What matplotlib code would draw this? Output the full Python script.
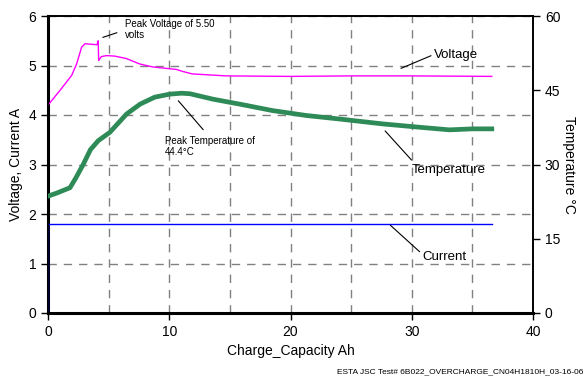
import matplotlib.pyplot as plt
from matplotlib.ticker import MultipleLocator

plt.rcParams['font.family'] = ['Liberation Sans', 'DejaVu Sans']

# Voltage (V) vs charge capacity (Ah)
volt_x = [0, 1.0, 1.95, 2.36, 2.77, 3.05, 3.5, 4.05, 4.14, 4.18, 4.4, 4.83, 5.5,
          6.47, 7.57, 8.66, 10.6, 11.1, 11.9, 14.7, 19.9, 25, 30, 36.6]
volt_y = [4.20, 4.50, 4.80, 5.03, 5.37, 5.44, 5.43, 5.42, 5.50, 5.10, 5.18, 5.20, 5.19,
          5.14, 5.03, 4.97, 4.92, 4.88, 4.83, 4.79, 4.78, 4.79, 4.79, 4.78]

# Temperature (C)
temp_x = [0, 0.8, 1.5, 1.81, 2.3, 2.9, 3.5, 4.14, 5.1, 6.48, 7.6, 8.8, 10.0, 11.0,
          11.7, 13.6, 15.8, 18.5, 21.3, 24.0, 27.6, 30.3, 33.1, 35.0, 36.6]
temp_y = [23.6, 24.3, 25.0, 25.3, 27.3, 30.0, 33.0, 34.8, 36.5, 40.2, 42.2, 43.6, 44.2, 44.4,
          44.3, 43.2, 42.2, 40.9, 39.9, 39.2, 38.2, 37.6, 37.0, 37.2, 37.2]

# Current (A)
curr_x = [0, 0, 36.6]
curr_y = [0, 1.8, 1.8]

fig = plt.figure(figsize=(5.87, 3.79), dpi=100)
ax = fig.add_axes([48/587, 1 - 313/379, 485/587, 297/379])
ax2 = ax.twinx()

ax.plot(volt_x, volt_y, color='#FF00FF', lw=1, zorder=3)
ax.plot(curr_x, curr_y, color='#0000FF', lw=1, zorder=3)
ax2.plot(temp_x, temp_y, color='#2E8B57', lw=3.4, zorder=3)

ax.set_xlim(0, 40)
ax.set_ylim(0, 6)
ax2.set_ylim(0, 60)
ax.xaxis.set_major_locator(MultipleLocator(10))
ax.xaxis.set_minor_locator(MultipleLocator(5))
ax.yaxis.set_major_locator(MultipleLocator(1))
ax2.yaxis.set_major_locator(MultipleLocator(15))

ax.grid(True, which='both', axis='x', color='#808080', ls=(0, (6, 5)), lw=1)
ax.grid(True, which='major', axis='y', color='#808080', ls=(0, (6, 5)), lw=1)
ax.set_axisbelow(True)

for a in (ax, ax2):
    a.tick_params(which='major', direction='out', length=5, width=1, labelsize=10, colors='black')
    a.tick_params(which='minor', length=0)
    for s in a.spines.values():
        s.set_linewidth(1.2)
ax.spines['left'].set_linewidth(2.2)
ax.spines['bottom'].set_linewidth(2.2)

ax.set_xlabel('Charge_Capacity Ah', fontsize=10)
ax.set_ylabel('Voltage, Current A', fontsize=10)
ax2.set_ylabel('Temperature °C', fontsize=10, rotation=-90, labelpad=11)

lk = dict(arrowstyle='-', color='black', lw=0.8)
ax.annotate('', xy=(4.3, 5.55), xytext=(5.9, 5.68), arrowprops=lk)
ax.text(6.35, 5.93, 'Peak Voltage of 5.50\nvolts', fontsize=7, va='top', ha='left', linespacing=1.1)
ax.annotate('', xy=(10.6, 4.33), xytext=(12.95, 3.66), arrowprops=lk)
ax.text(9.65, 3.57, 'Peak Temperature of\n44.4°C', fontsize=7, va='top', ha='left', linespacing=1.1)
ax.annotate('', xy=(28.9, 4.92), xytext=(31.8, 5.22), arrowprops=lk)
ax.text(31.8, 5.22, 'Voltage', fontsize=9.5, va='center', ha='left')
ax.annotate('', xy=(27.65, 3.72), xytext=(30.13, 3.05), arrowprops=lk)
ax.text(30.0, 2.88, 'Temperature', fontsize=9.5, va='center', ha='left')
ax.annotate('', xy=(28.07, 1.81), xytext=(30.82, 1.20), arrowprops=lk)
ax.text(30.9, 1.14, 'Current', fontsize=9.5, va='center', ha='left')

fig.text(583/587, 1 - 372/379, 'ESTA JSC Test# 6B022_OVERCHARGE_CN04H1810H_03-16-06',
         fontsize=6, ha='right', va='center')

fig.savefig('out.png', dpi=100)
